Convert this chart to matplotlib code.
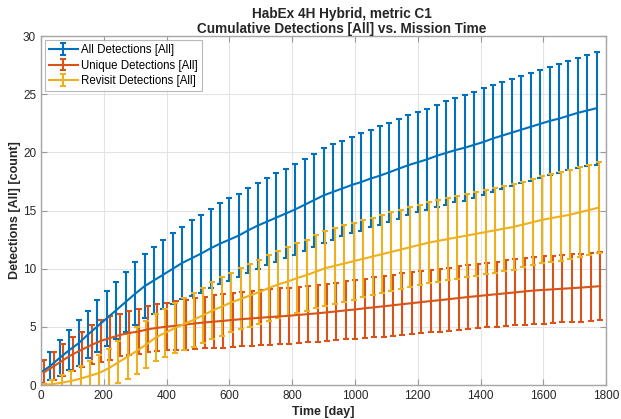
import matplotlib
matplotlib.use('Agg')
import matplotlib.pyplot as plt

plt.rcParams['font.family'] = ['Liberation Sans', 'DejaVu Sans']

# mission time [day] for each series (sampled every 30 days, series slightly staggered)
t_all = list(range(0, 1800, 30))
t_unique = list(range(11, 1811, 30))
t_revisit = list(range(6, 1806, 30))

all_mean = [1.1, 1.65, 2.35, 3.0, 3.6, 4.35, 5.05, 5.75, 6.45, 7.15,
            7.85, 8.5, 9.0, 9.5, 10.0, 10.5, 10.9, 11.3, 11.75, 12.15,
            12.5, 12.85, 13.3, 13.7, 14.05, 14.4, 14.75, 15.1, 15.5, 15.9,
            16.3, 16.6, 16.9, 17.2, 17.45, 17.75, 18.0, 18.3, 18.6, 18.9,
            19.15, 19.4, 19.7, 19.95, 20.2, 20.4, 20.65, 20.9, 21.2, 21.45,
            21.7, 21.95, 22.2, 22.45, 22.7, 22.9, 23.15, 23.4, 23.6, 23.8]
all_std = [0.95, 1.2, 1.55, 1.7, 1.95, 2.05, 2.25, 2.35, 2.45, 2.6,
           2.7, 2.75, 2.9, 2.95, 3.05, 3.1, 3.25, 3.35, 3.4, 3.5,
           3.55, 3.6, 3.65, 3.7, 3.75, 3.8, 3.85, 3.9, 3.95, 4.0,
           4.05, 4.1, 4.1, 4.15, 4.2, 4.2, 4.25, 4.25, 4.3, 4.3,
           4.3, 4.35, 4.4, 4.45, 4.5, 4.55, 4.55, 4.6, 4.6, 4.6,
           4.6, 4.6, 4.65, 4.65, 4.65, 4.7, 4.7, 4.75, 4.8, 4.85]

unique_mean = [1.12, 1.62, 2.15, 2.65, 3.05, 3.45, 3.8, 4.05, 4.3, 4.48,
               4.6, 4.8, 4.92, 5.02, 5.1, 5.2, 5.3, 5.38, 5.45, 5.52,
               5.6, 5.67, 5.73, 5.79, 5.85, 5.9, 5.96, 6.03, 6.1, 6.17,
               6.25, 6.33, 6.42, 6.5, 6.6, 6.68, 6.77, 6.86, 6.95, 7.04,
               7.13, 7.22, 7.3, 7.39, 7.48, 7.57, 7.65, 7.73, 7.81, 7.89,
               7.97, 8.05, 8.13, 8.18, 8.23, 8.28, 8.33, 8.38, 8.44, 8.5]
unique_std = [1.02, 1.21, 1.4, 1.46, 1.5, 1.68, 1.81, 1.86, 1.84, 1.86,
              1.93, 2.0, 2.02, 2.04, 2.1, 2.15, 2.2, 2.23, 2.27, 2.3,
              2.33, 2.35, 2.37, 2.38, 2.4, 2.4, 2.42, 2.43, 2.44, 2.45,
              2.45, 2.47, 2.5, 2.52, 2.55, 2.57, 2.6, 2.62, 2.64, 2.66,
              2.67, 2.68, 2.7, 2.71, 2.72, 2.74, 2.76, 2.78, 2.8, 2.82,
              2.84, 2.86, 2.88, 2.89, 2.9, 2.9, 2.91, 2.92, 2.92, 2.93]

revisit_mean = [0.02, 0.08, 0.2, 0.35, 0.55, 0.8, 1.05, 1.45, 1.95, 2.45,
                2.95, 3.5, 4.1, 4.5, 4.9, 5.25, 5.6, 6.0, 6.4, 6.75,
                7.1, 7.4, 7.7, 8.0, 8.35, 8.65, 8.9, 9.2, 9.45, 9.75,
                10.05, 10.25, 10.45, 10.65, 10.85, 11.05, 11.25, 11.45, 11.65, 11.85,
                12.05, 12.25, 12.4, 12.55, 12.7, 12.85, 13.0, 13.15, 13.3, 13.45,
                13.6, 13.8, 14.0, 14.2, 14.35, 14.5, 14.65, 14.85, 15.05, 15.25]
revisit_std = [0.05, 0.37, 0.7, 0.9, 1.13, 1.31, 1.5, 1.65, 1.8, 1.92,
               2.0, 2.0, 2.0, 2.07, 2.14, 2.22, 2.3, 2.37, 2.45, 2.5,
               2.56, 2.62, 2.68, 2.74, 2.82, 2.9, 2.94, 2.98, 3.05, 3.15,
               3.22, 3.25, 3.27, 3.3, 3.32, 3.35, 3.38, 3.4, 3.42, 3.44,
               3.46, 3.48, 3.5, 3.52, 3.55, 3.57, 3.59, 3.61, 3.63, 3.65,
               3.67, 3.69, 3.71, 3.74, 3.77, 3.8, 3.83, 3.86, 3.89, 3.92]

fig = plt.figure(figsize=(6.21, 4.19), dpi=100)
ax = fig.add_axes([0.066, 0.081, 0.91, 0.833])

kw = dict(lw=1.5, elinewidth=1.5, capsize=2.5, capthick=1.5)
ax.errorbar(t_all, all_mean, yerr=all_std, color='#0072BD', label='All Detections [All]', **kw)
ax.errorbar(t_unique, unique_mean, yerr=unique_std, color='#D95319', label='Unique Detections [All]', **kw)
ax.errorbar(t_revisit, revisit_mean, yerr=revisit_std, color='#EDB120', label='Revisit Detections [All]', **kw)

ax.set_xlim(0, 1800)
ax.set_ylim(0, 30)
ax.set_xticks(range(0, 1801, 200))
ax.set_yticks(range(0, 31, 5))
ax.grid(True, color='#e3e3e3', lw=0.8)
ax.set_axisbelow(True)
ax.tick_params(direction='in', top=True, right=True, length=4, width=0.8,
               color='#999999', labelcolor='#262626', labelsize=8.5)
for s in ax.spines.values():
    s.set_color('#a6a6a6')
    s.set_linewidth(1.0)

ax.set_xlabel('Time [day]', fontsize=9, fontweight='bold', color='#262626', labelpad=3)
ax.set_ylabel('Detections [All] [count]', fontsize=9, fontweight='bold', color='#262626', labelpad=1)
ax.set_title('HabEx 4H Hybrid, metric C1\nCumulative Detections [All] vs. Mission Time',
             fontsize=9.8, fontweight='bold', color='#262626', x=0.532, pad=2, linespacing=1.1)

leg = ax.legend(loc='upper left', fontsize=8.3, frameon=True, fancybox=False,
                edgecolor='#a6a6a6', borderaxespad=0.35, handlelength=2.5,
                handletextpad=0.3, labelspacing=0.3, borderpad=0.35)
leg.get_frame().set_linewidth(0.8)

fig.savefig('out.png', dpi=100)
